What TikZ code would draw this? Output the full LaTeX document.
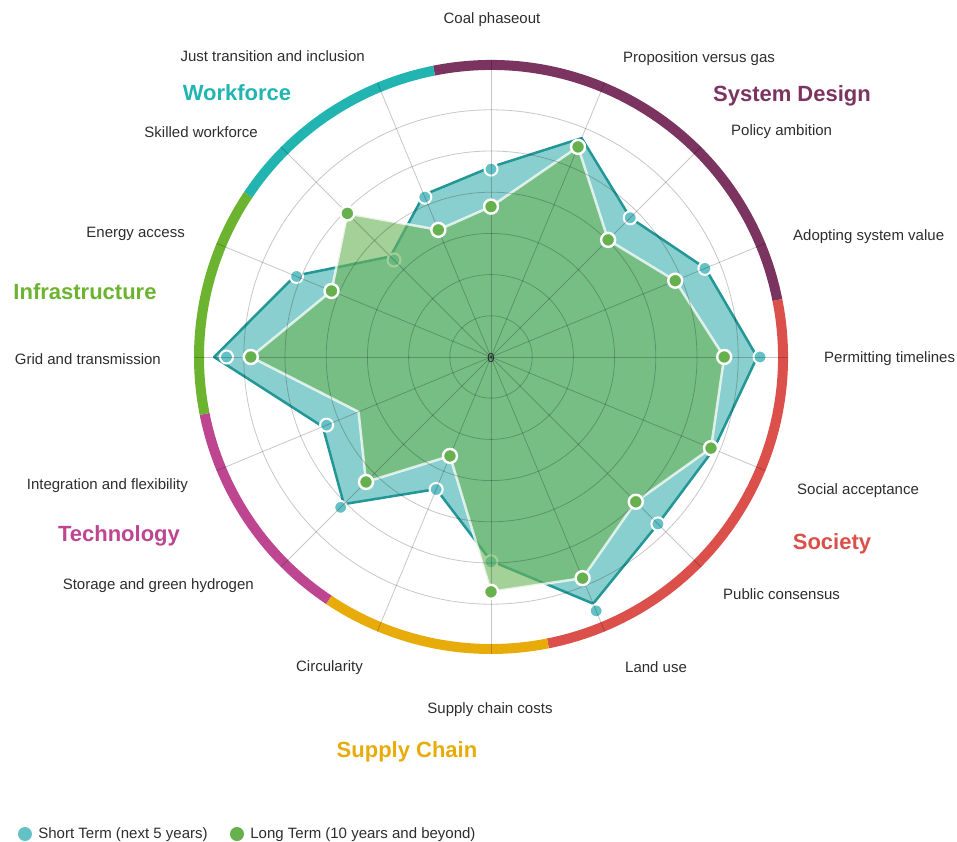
\documentclass[tikz,border=0pt]{standalone}
\usepackage{fontspec}
\setmainfont{Liberation Sans}
\usepackage{xcolor}
\usetikzlibrary{positioning}

\definecolor{designc}{RGB}{123,52,96}
\definecolor{societyc}{RGB}{219,80,74}
\definecolor{supplyc}{RGB}{232,172,10}
\definecolor{techc}{RGB}{190,70,145}
\definecolor{infrac}{RGB}{108,180,48}
\definecolor{workc}{RGB}{34,180,176}
\definecolor{shortc}{RGB}{20,160,160}
\definecolor{shortedge}{RGB}{35,150,150}
\definecolor{shortdot}{RGB}{100,194,198}
\definecolor{longc}{RGB}{108,180,88}
\definecolor{longdot}{RGB}{102,176,78}
\definecolor{labelc}{RGB}{45,45,45}

\tikzset{
  axislabel/.style={font=\fontsize{15}{18}\selectfont, text=labelc, inner sep=0pt},
  grouplabel/.style={font=\fontsize{22}{26}\selectfont\bfseries, inner sep=0pt},
  gridline/.style={black, opacity=0.22, line width=0.8pt},
  ringarc/.style={line width=10pt},
  shortpt/.style={circle, fill=shortdot, draw=white, line width=2pt, minimum size=13pt, inner sep=0pt},
  longpt/.style={circle, fill=longdot, draw=white, line width=2.4pt, minimum size=14pt, inner sep=0pt},
  legenddot/.style={circle, minimum size=14pt, inner sep=0pt},
}

\begin{document}
\begin{tikzpicture}[x=1pt, y=1pt]
  \useasboundingbox (-491,-485) rectangle (466,357);

  % category ring
  \draw[ringarc, designc] (101.25:292) arc[start angle=101.25, end angle=11.25, radius=292pt];
  \draw[ringarc, societyc] (11.25:292) arc[start angle=11.25, end angle=-78.75, radius=292pt];
  \draw[ringarc, supplyc] (-78.75:292) arc[start angle=-78.75, end angle=-123.75, radius=292pt];
  \draw[ringarc, techc] (-123.75:292) arc[start angle=-123.75, end angle=-168.75, radius=292pt];
  \draw[ringarc, infrac] (191.25:292) arc[start angle=191.25, end angle=146.25, radius=292pt];
  \draw[ringarc, workc] (146.25:292) arc[start angle=146.25, end angle=101.25, radius=292pt];

  % data (one grid step = 41.2)
  \foreach \r [count=\i from 0] in {4.61,5.75,4.78,5.63,6.46,5.85,5.73,6.48,4.95,3.47,5.05,4.42,6.72,5.15,3.45,4.26}
    \coordinate (sv\i) at ({90-22.5*\i}:{\r*41.2});
  \foreach \r [count=\i from 0] in {4.56,5.53,4.78,5.62,6.53,5.78,5.73,6.67,4.97,3.48,5.16,4.32,6.42,5.11,3.33,4.20}
    \coordinate (sd\i) at ({90-22.5*\i}:{\r*41.2});
  \foreach \r [count=\i from 0] in {3.65,5.52,4.02,4.84,5.66,5.78,4.97,5.81,5.70,2.60,4.29,3.48,5.83,4.19,4.93,3.34}
    \coordinate (lt\i) at ({90-22.5*\i}:{\r*41.2});

  % short term
  \fill[shortc, fill opacity=0.5] (sv0) -- (sv1) -- (sv2) -- (sv3) -- (sv4) -- (sv5) -- (sv6) -- (sv7)
    -- (sv8) -- (sv9) -- (sv10) -- (sv11) -- (sv12) -- (sv13) -- (sv14) -- (sv15) -- cycle;
  \draw[shortedge, line width=2.5pt, line join=round] (sv0) -- (sv1) -- (sv2) -- (sv3) -- (sv4) -- (sv5) -- (sv6) -- (sv7)
    -- (sv8) -- (sv9) -- (sv10) -- (sv11) -- (sv12) -- (sv13) -- (sv14) -- (sv15) -- cycle;
  \foreach \i in {0,...,15}
    \node[shortpt] (sdot\i) at (sd\i) {};

  % long term
  \fill[longc, fill opacity=0.62] (lt0) -- (lt1) -- (lt2) -- (lt3) -- (lt4) -- (lt5) -- (lt6) -- (lt7)
    -- (lt8) -- (lt9) -- (lt10) -- (lt11) -- (lt12) -- (lt13) -- (lt14) -- (lt15) -- cycle;
  \draw[white, opacity=0.75, line width=2.5pt, line join=round] (lt0) -- (lt1) -- (lt2) -- (lt3) -- (lt4) -- (lt5) -- (lt6) -- (lt7)
    -- (lt8) -- (lt9) -- (lt10) -- (lt11) -- (lt12) -- (lt13) -- (lt14) -- (lt15) -- cycle;

  % grid
  \foreach \k in {1,...,6}
    \draw[gridline] (0,0) circle[radius={\k*41.2pt}];
  \foreach \i in {0,...,15}
    \draw[gridline] (0,0) -- ({90-22.5*\i}:297);

  \foreach \i in {0,...,10,12,13,14,15}
    \node[longpt] (ldot\i) at (lt\i) {};

  \node[font=\fontsize{13}{15}\selectfont, text=labelc, inner sep=0pt] (zero) at (0,-1) {0};

  % axis labels
  \node[axislabel] (coal) at (1,337) {Coal phaseout};
  \node[axislabel, anchor=west] (proposition) at (132,298) {Proposition versus gas};
  \node[axislabel, anchor=west] (policy) at (240,225) {Policy ambition};
  \node[axislabel, anchor=west] (adopting) at (302,120) {Adopting system value};
  \node[axislabel, anchor=west] (permitting) at (333,-2) {Permitting timelines};
  \node[axislabel, anchor=west] (social) at (306,-134) {Social acceptance};
  \node[axislabel, anchor=west] (public) at (232,-237) {Public consensus};
  \node[axislabel, anchor=west] (landuse) at (134,-310) {Land use};
  \node[axislabel] (supplycost) at (-1,-353) {Supply chain costs};
  \node[axislabel, anchor=east] (circularity) at (-128,-311) {Circularity};
  \node[axislabel, anchor=east] (storage) at (-237,-229) {Storage and green hydrogen};
  \node[axislabel, anchor=east] (integration) at (-303,-129) {Integration and flexibility};
  \node[axislabel, anchor=east] (gridtrans) at (-330,-2) {Grid and transmission};
  \node[axislabel, anchor=east] (energy) at (-306,123) {Energy access};
  \node[axislabel, anchor=east] (skilled) at (-233,225) {Skilled workforce};
  \node[axislabel, anchor=east] (justtrans) at (-126,301) {Just transition and inclusion};

  % category labels
  \node[grouplabel, text=workc] (workforce) at (-254,264) {Workforce};
  \node[grouplabel, text=designc] (sysdesign) at (301,261) {System Design};
  \node[grouplabel, text=infrac] (infra) at (-406,65) {Infrastructure};
  \node[grouplabel, text=societyc] (society) at (341,-187) {Society};
  \node[grouplabel, text=techc] (tech) at (-372,-179) {Technology};
  \node[grouplabel, text=supplyc] (supplychain) at (-84,-395) {Supply Chain};

  % legend
  \node[legenddot, fill=shortdot] (shortkey) at (-466,-477) {};
  \node[axislabel, right=6pt of shortkey, yshift=-1pt] (shortleg) {Short Term (next 5 years)};
  \node[legenddot, fill=longdot] (longkey) at (-254,-477) {};
  \node[axislabel, right=6pt of longkey, yshift=-1pt] (longleg) {Long Term (10 years and beyond)};
\end{tikzpicture}
\end{document}
